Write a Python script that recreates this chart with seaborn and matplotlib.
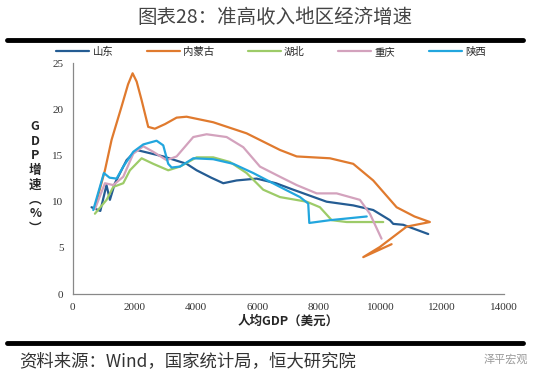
import pandas as pd
import matplotlib
matplotlib.use("Agg")
import matplotlib.pyplot as plt
import seaborn as sns

# per-capita GDP (USD) and GDP growth (%)
shandong_x = [615, 900, 1100, 1211, 1373, 1753, 2078, 2943, 3702, 4027, 4500, 4891, 5325, 5974,
              6600, 7163, 8247, 9111, 9760, 10302, 10410, 10735, 11546]
shandong_y = [9.4, 9.0, 11.8, 10.2, 12.0, 14.5, 15.6, 14.9, 14.1, 13.4, 12.6, 12.0, 12.3, 12.5,
              12.0, 11.3, 10.0, 9.6, 9.1, 8.0, 7.6, 7.5, 6.5]

nmg_x = [724, 1050, 1266, 1590, 1800, 1948, 2080, 2240, 2455, 2672, 3000, 3377, 3700, 4566,
         5650, 6733, 7275, 8354, 9111, 9760, 10520, 11100, 11600, 10845, 9977, 9437, 10357]
nmg_y = [9.4, 13.4, 16.7, 20.3, 22.7, 23.9, 23.0, 21.0, 18.1, 17.9, 18.4, 19.1, 19.2, 18.6,
         17.4, 15.6, 14.9, 14.7, 14.1, 12.3, 9.4, 8.4, 7.8, 7.3, 5.1, 4.0, 5.4]

hubei_x = [724, 1103, 1320, 1645, 1861, 2240, 2618, 3105, 3485, 4027, 4566, 5108, 5650,
           6189, 6733, 7600, 8030, 8412, 8899, 10085]
hubei_y = [8.7, 10.2, 11.6, 12.0, 13.4, 14.7, 14.1, 13.4, 13.8, 14.8, 14.8, 14.3, 13.1,
           11.3, 10.5, 10.0, 9.4, 8.0, 7.8, 7.8]

cq_x = [724, 1050, 1320, 1645, 1970, 2295, 2618, 3050, 3377, 3918, 4350, 5000, 5541,
        6083, 6733, 7275, 7925, 8573, 9328, 9652, 10030]
cq_y = [9.2, 12.0, 11.8, 12.7, 15.2, 16.0, 15.4, 14.5, 14.9, 17.0, 17.3, 17.0, 15.9,
        13.8, 12.7, 11.8, 10.9, 10.9, 10.2, 8.7, 6.0]

sx_x = [670, 1016, 1200, 1428, 1645, 1970, 2295, 2727, 2943, 3105, 3215, 3485, 3918,
        4566, 5216, 5866, 6733, 7383, 7650, 7685, 8357, 9550]
sx_y = [9.1, 13.1, 12.6, 12.5, 13.8, 15.4, 16.2, 16.6, 16.1, 14.1, 13.7, 13.8, 14.7,
        14.6, 14.1, 13.1, 11.6, 10.5, 9.8, 7.7, 8.0, 8.4]

regions = ["山东", "内蒙古", "湖北", "重庆", "陕西"]
colors = ["#245C93", "#E07A2E", "#9DCB68", "#D3A2BD", "#22A6DE"]

frames = []
for name, xs, ys in zip(regions, [shandong_x, nmg_x, hubei_x, cq_x, sx_x],
                        [shandong_y, nmg_y, hubei_y, cq_y, sx_y]):
    frames.append(pd.DataFrame({"gdp": xs, "growth": ys, "region": name}))
df = pd.concat(frames, ignore_index=True)

sns.set_style("white")
plt.rcParams['font.family'] = ['Noto Sans CJK SC', 'DejaVu Sans']

fig = plt.figure(figsize=(5.5, 3.78), dpi=100)
ax = fig.add_axes([0.132, 0.222, 0.784, 0.611])

sns.lineplot(data=df, x="gdp", y="growth", hue="region", hue_order=regions,
             palette=colors, sort=False, estimator=None, linewidth=1.6, ax=ax)
for ln in ax.get_lines():
    ln.set_solid_joinstyle("round")

ax.set_xlim(0, 14000)
ax.set_ylim(0, 25)
ax.set_xticks(range(0, 14001, 2000))
ax.set_yticks(range(0, 26, 5))
for lab in ax.get_xticklabels() + ax.get_yticklabels():
    lab.set_family("Liberation Serif")
    lab.set_fontsize(8)
ax.tick_params(axis="both", direction="out", length=3, width=0.8, colors="#888888",
               labelcolor="#333333")
for s in ["top", "right"]:
    ax.spines[s].set_visible(False)
for s in ["left", "bottom"]:
    ax.spines[s].set_color("#888888")
    ax.spines[s].set_linewidth(0.9)

ax.set_xlabel("人均GDP（美元）", fontsize=9, fontweight="bold", labelpad=2)
ax.set_ylabel("")
fig.text(0.064, 0.53, "\n".join(["G", "D", "P", "增", "速", "︵", "%", "︶"]),
         ha="center", va="center", fontsize=9, fontweight="bold", linespacing=1.15)

leg = ax.legend(loc="lower center", bbox_to_anchor=(0.46, 1.0), ncol=5, frameon=False,
                fontsize=7.5, handlelength=3.2, columnspacing=3.2, handletextpad=0.3,
                borderaxespad=0.2)

fig.text(0.5, 0.955, "图表28：准高收入地区经济增速", ha="center", va="center",
         fontsize=14, color="#444444")
fig.add_artist(plt.Line2D([0.013, 0.95], [0.893, 0.893], color="black", linewidth=3.5))
fig.add_artist(plt.Line2D([0.013, 0.95], [0.093, 0.093], color="black", linewidth=3.5))
fig.text(0.035, 0.045, "资料来源：Wind，国家统计局，恒大研究院", ha="left", va="center",
         fontsize=12.5, style="italic", color="#333333")
fig.text(0.92, 0.05, "泽平宏观", ha="center", va="center", fontsize=8, color="#999999")

fig.savefig("out.png", dpi=100)
